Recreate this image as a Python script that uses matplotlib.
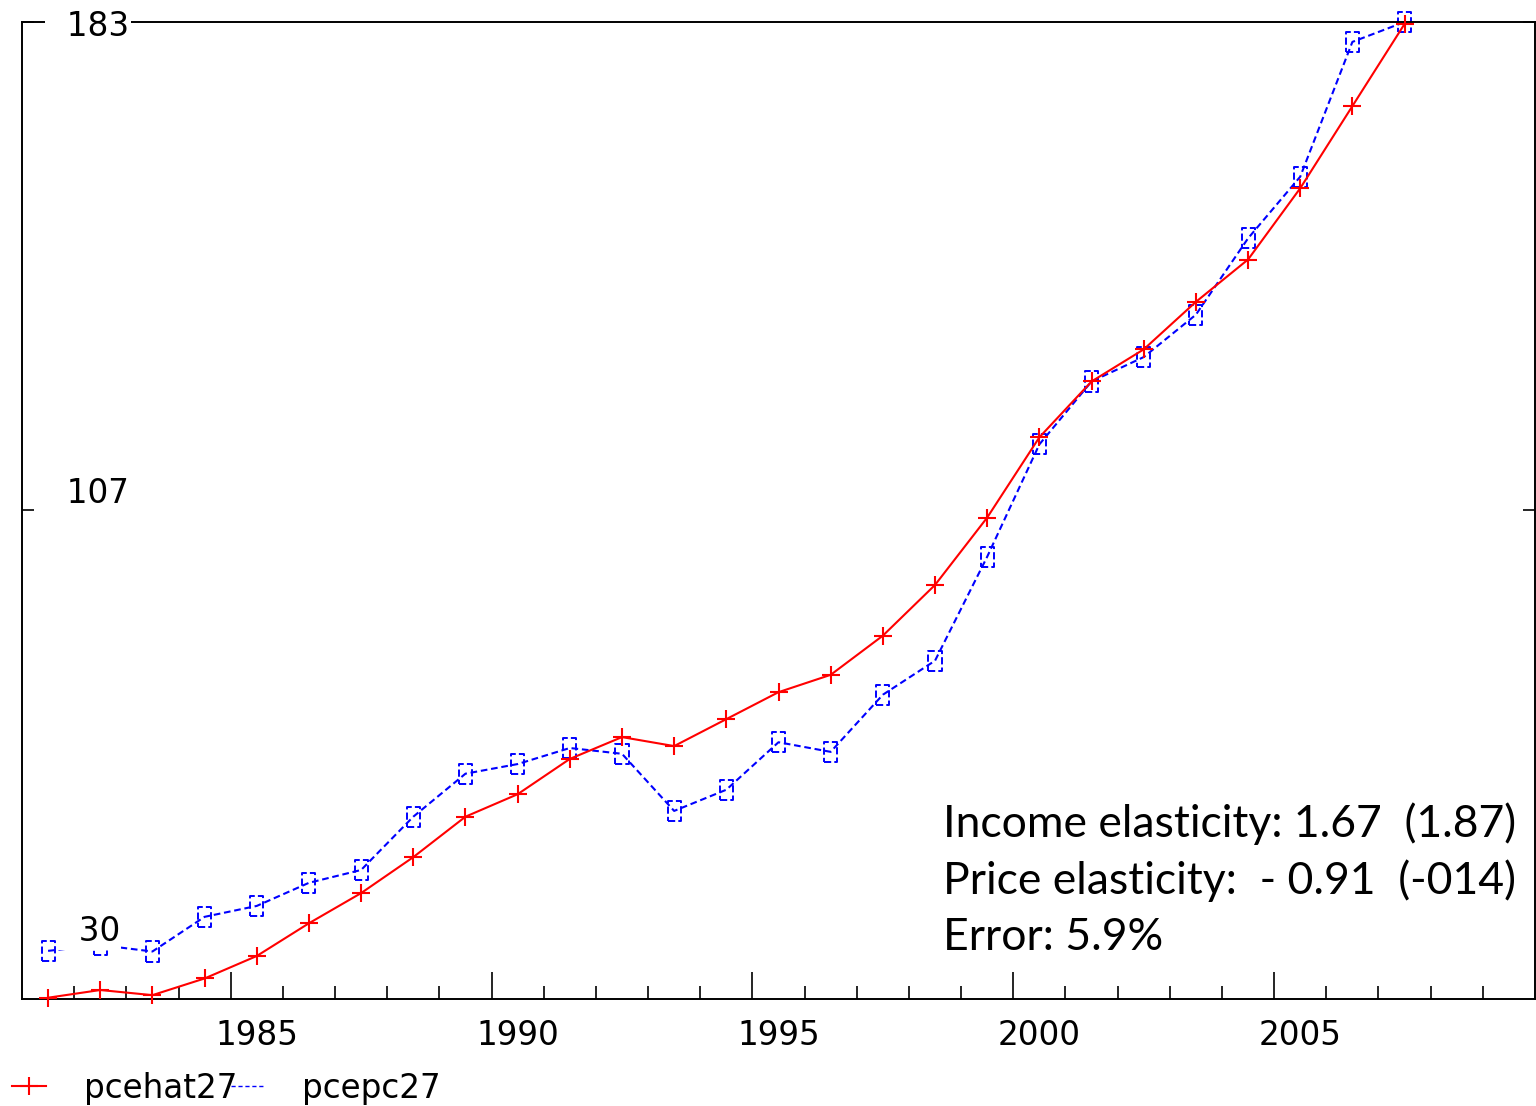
import numpy as np
import matplotlib.pyplot as plt
from matplotlib.path import Path
from matplotlib.lines import Line2D

# annual series, 1981-2007
years = np.arange(1981, 2008)
pcehat27 = [31.0, 32.2, 31.4, 34.0, 37.5, 42.6, 47.3, 52.9, 59.2, 62.7,
            68.2, 71.6, 70.2, 74.4, 78.6, 81.3, 87.4, 95.3, 105.8, 118.3,
            127.0, 132.0, 139.4, 146.0, 157.1, 169.9, 182.7]
pcepc27 = [38.3, 39.2, 38.2, 43.6, 45.3, 48.9, 50.9, 59.2, 65.9, 67.4,
           69.9, 69.0, 60.1, 63.4, 70.8, 69.3, 78.2, 83.5, 99.7, 117.2,
           127.0, 130.8, 137.4, 149.3, 158.9, 179.9, 183.0]

y_ticks = [30, 107, 183]
x_major = [1985, 1990, 1995, 2000, 2005]
notes = ["Income elasticity: 1.67  (1.87)",
         "Price elasticity:  - 0.91  (-014)",
         "Error: 5.9%"]

plt.rcParams['font.family'] = 'DejaVu Sans'

fig = plt.figure(figsize=(15.36, 11.06), dpi=100)
ax = fig.add_axes([22/1536, 107/1106, 1513/1536, 977/1106])

x = years + 0.5  # values sit mid-year

# tall hollow box marker for the actual series
box = Path([(-0.65, -1), (0.65, -1), (0.65, 1), (-0.65, 1), (-0.65, -1)],
           [Path.MOVETO, Path.LINETO, Path.LINETO, Path.LINETO, Path.CLOSEPOLY])

ax.plot(x, pcepc27, color='blue', lw=1.5, dashes=(3.2, 1.8), zorder=2)
ax.scatter(x, pcepc27, marker=box, s=14.5**2, facecolors='none',
           edgecolors='blue', linewidths=1.4, linestyle='--', zorder=2,
           clip_on=False)
ax.plot(x, pcehat27, color='red', lw=1.5, marker='+', ms=13, mew=1.5, zorder=3,
        clip_on=False)

for s in ax.spines.values():
    s.set_linewidth(1.4)

# x axis: long ticks every 5 years, short ticks each year
ax.set_xticks(x_major)
ax.set_xticks(np.arange(1982, 2010), minor=True)
ax.tick_params(axis='x', which='major', direction='in', length=19.5, width=1.2,
               labelbottom=False)
ax.tick_params(axis='x', which='minor', direction='in', length=9.4, width=1.2)
for yr in x_major:
    ax.annotate(str(yr), (yr + 0.5, 0), xycoords=('data', 'axes fraction'),
                xytext=(0, -14.5), textcoords='offset points',
                ha='center', va='top', fontsize=23.5)

# y axis: short inward ticks on both sides, labels inside the frame
ax.set_yticks(y_ticks)
ax.tick_params(axis='y', direction='in', length=8.6, width=1.2,
               left=True, right=True, labelleft=False)
ax.set_xlim(1981, 2010)
ax.set_ylim(30.8, 183)

y_offsets = {30: (25.6, 52.3), 107: (17.5, 11.5), 183: (17.5, -3.5)}
for v in y_ticks:
    dx, dy = y_offsets[v]
    ax.annotate("  " + str(v), (0, v), xycoords=('axes fraction', 'data'),
                xytext=(dx, dy), textcoords='offset points',
                ha='left', va='center', fontsize=23.5, zorder=5,
                annotation_clip=False,
                bbox=dict(boxstyle='square,pad=0.05', fc='white', ec='none'))

# estimation summary
for i, line in enumerate(notes):
    fig.text(943/1536, (1106 - 837 - 56.5*i)/1106, line, family='Lato',
             fontsize=32, va='baseline', ha='left')

handles = [Line2D([], [], color='red', lw=1.5, marker='+', ms=13, mew=1.5),
           Line2D([], [], color='blue', lw=1.0, dashes=(3, 2))]
leg = fig.legend(handles, ['pcehat27', 'pcepc27'], loc='lower left',
                 bbox_to_anchor=(12/1536, 0.001), ncol=2, frameon=False,
                 fontsize=23.5, handlelength=1.05, handletextpad=1.15,
                 columnspacing=-0.2, borderpad=0, borderaxespad=0)

fig.savefig('out.png', dpi=100)
